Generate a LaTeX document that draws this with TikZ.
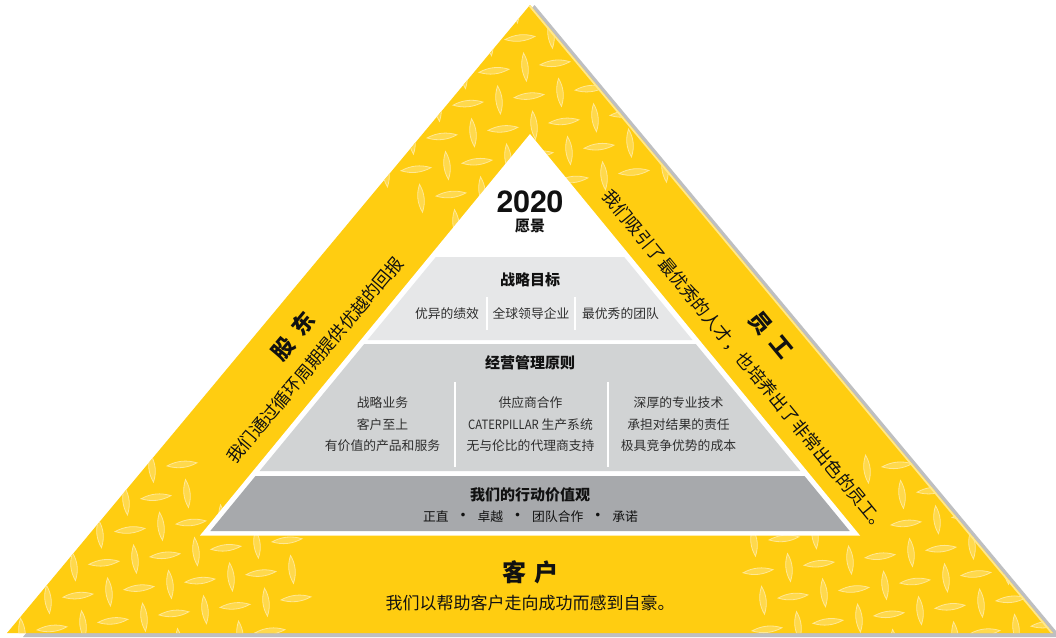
\documentclass[tikz,border=0pt]{standalone}
\usepackage{fontspec}
\setmainfont{Noto Sans CJK SC}
\newfontfamily\headfont{TeX Gyre Heros}

\definecolor{catyellow}{HTML}{FFCD11}
\definecolor{lensfill}{HTML}{FFD94C}
\definecolor{lensedge}{HTML}{FFE895}
\definecolor{edgelight}{HTML}{FFE78C}
\definecolor{shadowgray}{HTML}{BEBFC1}
\definecolor{tierA}{HTML}{E6E7E8}
\definecolor{tierB}{HTML}{D1D3D4}
\definecolor{tierC}{HTML}{A7A9AC}
\definecolor{ink}{HTML}{111111}
\definecolor{inksoft}{HTML}{2E2E2E}

% one diamond-plate lens: x, y, rotation, half length
% lenses behind the three text bands are left out
\newcommand\platelens[4]{%
  \pgfmathsetmacro\lx{#1}%
  \pgfmathsetmacro\ly{#2}%
  \pgfmathsetmacro\tL{(\lx-235)*0.659-(\ly-453)*0.752}%
  \pgfmathsetmacro\vL{-(\lx-235)*0.752-(\ly-453)*0.659}%
  \pgfmathsetmacro\tR{(\lx-612)*0.633+(\ly-198)*0.775}%
  \pgfmathsetmacro\vR{(\lx-612)*0.775-(\ly-198)*0.633}%
  \pgfmathtruncatemacro\lin{(\ly>-15)&&(\ly<655)&&(\lx>530-(\ly-5)/1.2-18)&&(\lx<530+(\ly-5)/1.2+18)}%
  \pgfmathtruncatemacro\kL{(\tL>-40)&&(\tL<300)&&(\vL>-35)}%
  \pgfmathtruncatemacro\kR{(\vR>-35)&&(((\vR>25)&&(\tR>30)&&(\tR<370))||((!(\vR>25))&&(\tR>-15)&&(\tR<425)))}%
  \pgfmathtruncatemacro\kB{(\ly>520)&&(\lx>300)&&(\lx<752)}%
  \pgfmathtruncatemacro\lok{\lin&&(!(\kL||\kR||\kB))}%
  \ifnum\lok=1
    \path[lens,shift={(\lx,\ly)},rotate=#3]
      (-#4,0) .. controls ({-#4/3},-4.2) and ({#4/3},-4.2) .. (#4,0)
              .. controls ({#4/3},4.2) and ({-#4/3},4.2) .. (-#4,0) -- cycle;
  \fi}

\newcommand\valuedot{\makebox[29pt]{\fontsize{17}{17}\selectfont •}}

\begin{document}
\begin{tikzpicture}[x=1pt,y=-1pt,
  lens/.style={fill=lensfill, draw=lensedge, line width=0.8pt},
  tiertitle/.style={font=\fontsize{15}{18}\selectfont\bfseries, text=ink, inner sep=0pt},
  tieritem/.style={font=\fontsize{12.8}{21.5}\selectfont, text=inksoft, inner sep=0pt, align=center},
  bandtitle/.style={font=\fontsize{22}{24}\selectfont\bfseries, text=ink, inner sep=0pt},
  bandtext/.style={font=\fontsize{17.5}{20}\selectfont, text=ink, inner sep=0pt},
  divider/.style={draw=white, line width=2pt}]

\useasboundingbox (0,0) rectangle (1056,637);
\fill[white] (0,0) rectangle (1056,637);

% drop shadow and the yellow plate
\fill[shadowgray] (534.5,5) -- (1061,637) -- (23,637) -- cycle;
\fill[catyellow] (530,5) -- (1053,633) -- (7,633) -- cycle;

\begin{scope}
  \clip (530,5) -- (1053,633) -- (7,633) -- cycle;
  \foreach \i in {-5,...,24}{
    \foreach \j in {-19,...,8}{
      \pgfmathsetmacro\hx{130+61*\i+35*\j}
      \pgfmathsetmacro\hy{530-7.5*\i+25.3*\j}
      \platelens{\hx}{\hy}{6}{15}
      \platelens{\hx+31}{\hy-3.7}{96}{14}
    }}
  \draw[edgelight, line width=3.6pt] (530,5) -- (1053,633);
\end{scope}

% inner white triangle and the three tiers
\fill[white] (530,134) -- (860,535.5) -- (200,535.5) -- cycle;
\fill[tierA] (435.8,257) -- (624.2,257) -- (692.5,340) -- (367.5,340) -- cycle;
\fill[tierB] (364.2,344) -- (695.8,344) -- (800.4,471) -- (259.6,471) -- cycle;
\fill[tierC] (255.5,476) -- (804.5,476) -- (849.7,531) -- (210.3,531) -- cycle;

\draw[divider] (487,297) -- (487,329.5);
\draw[divider] (574.5,297) -- (574.5,329.5);
\draw[divider] (455,382) -- (455,467);
\draw[divider] (608,382) -- (608,467);

% vision
\node[font=\headfont\fontsize{30}{30}\selectfont\bfseries, text=ink, inner sep=0pt] (year) at (530,202) {2020};
\node[font=\fontsize{15}{16}\selectfont\bfseries, text=ink, inner sep=0pt] (vision) at (530,226.5) {愿景};

% strategic goals
\node[tiertitle] (goals) at (530,280) {战略目标};
\node[tieritem] (goalA) at (447,313.5) {优异的绩效};
\node[tieritem] (goalB) at (531,313.5) {全球领导企业};
\node[tieritem] (goalC) at (620.5,313.5) {最优秀的团队};

% operating principles
\node[tiertitle] (rules) at (530,362.5) {经营管理原则};
\node[tieritem] (ruleA) at (382.5,424.5) {战略业务\\客户至上\\有价值的产品和服务};
\node[tieritem] (ruleB) at (530.5,424.5) {供应商合作\\\scalebox{0.88}[1]{CATERPILLAR} 生产系统\\无与伦比的代理商支持};
\node[tieritem] (ruleC) at (678.5,424.5) {深厚的专业技术\\承担对结果的责任\\极具竞争优势的成本};

% values
\node[tiertitle] (values) at (530,495) {我们的行动价值观};
\node[tieritem, text=ink] (valuelist) at (530.5,517) {正直\valuedot 卓越\valuedot 团队合作\valuedot 承诺};

% shareholders
\node[bandtitle, rotate=50] (holders) at (293,336) {股\hspace{10pt}东};
\node[bandtext, rotate=50] (holderstext) at (315,360) {我们通过循环周期提供优越的回报};

% employees
\node[bandtitle, rotate=-50.5] (staff) at (771,335) {员\hspace{10pt}工};
\node[bandtext, rotate=-50.5] (stafftext) at (745.5,361.5) {我们吸引了最优秀的人才，也培养出了非常出色的员工。};

% customers
\node[bandtitle, font=\fontsize{24}{26}\selectfont\bfseries] (clients) at (530,572) {客\hspace{8pt}户};
\node[bandtext, font=\fontsize{17}{20}\selectfont] (clientstext) at (530,603) {我们以帮助客户走向成功而感到自豪。};

\end{tikzpicture}
\end{document}
